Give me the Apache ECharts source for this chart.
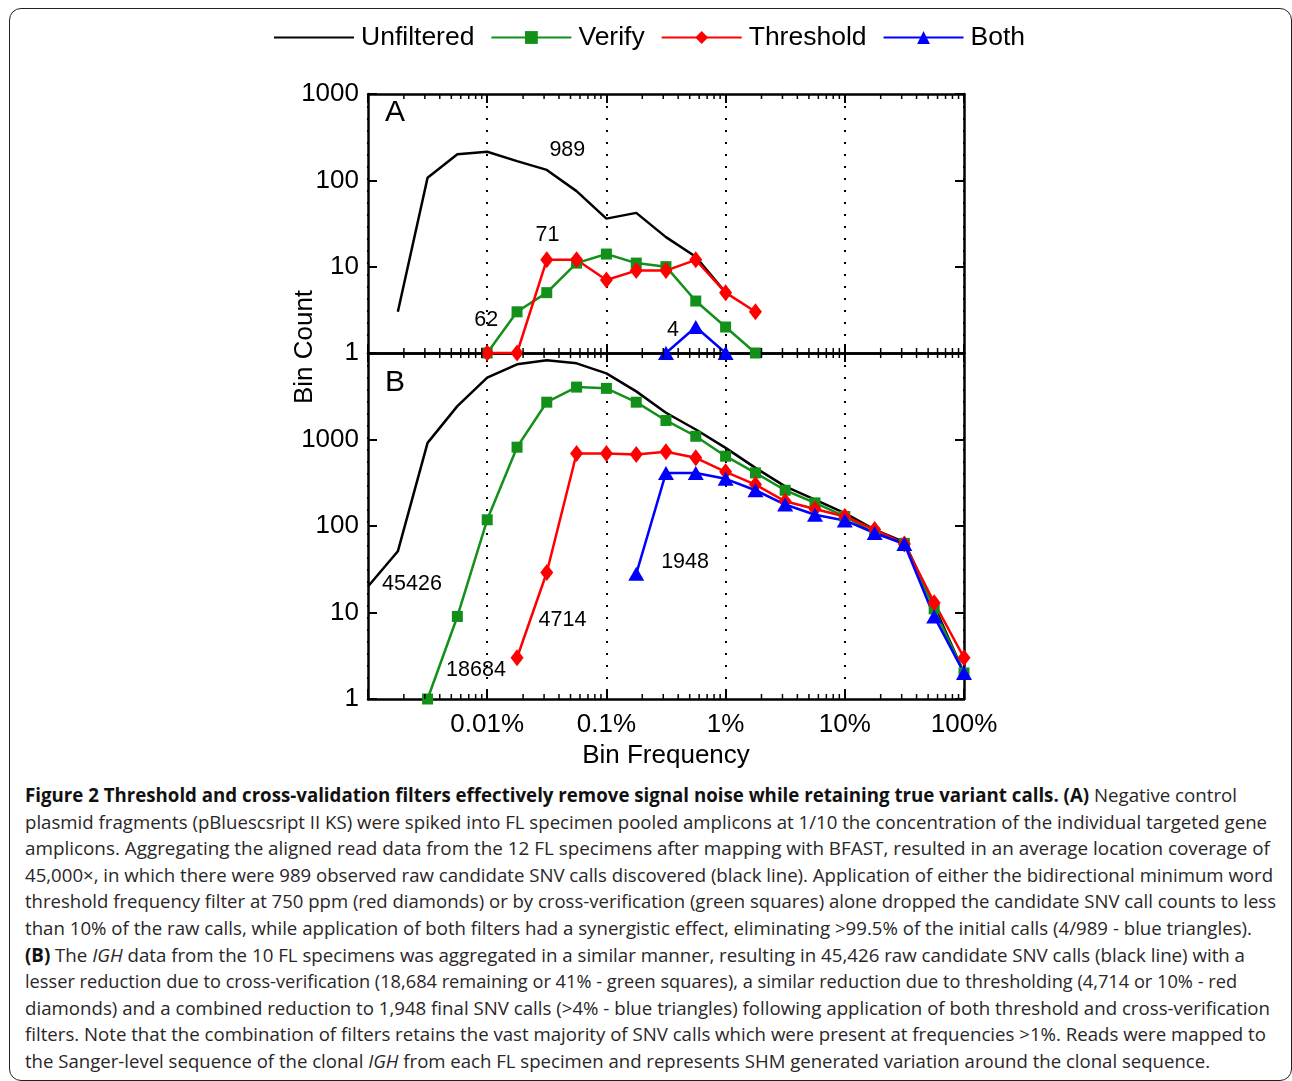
<!DOCTYPE html>
<html>
<head>
<meta charset="utf-8">
<script src="https://cdn.jsdelivr.net/npm/echarts@6/dist/echarts.min.js"></script>
<style>
  html, body { margin: 0; padding: 0; background: #fff; }
  body { width: 1292px; height: 1081px; position: relative; overflow: hidden; }
  #frame { position: absolute; left: 9px; top: 8px; width: 1283px; height: 1073px;
    border: 1.5px solid #222; border-radius: 12px; box-sizing: border-box; }
  #chart { position: absolute; left: 0; top: 0; width: 1292px; height: 775px; }
  #caption { position: absolute; left: 25px; top: 782px; font-family: 'Open Sans', sans-serif;
    font-size: 19px; line-height: 26.6px; color: #2a2627; }
  #caption div { white-space: nowrap; transform-origin: 0 50%; width: max-content; }
  #caption b { color: #111; }
</style>
</head>
<body>
<div id="frame"></div>
<div id="chart"></div>
<div id="caption">
  <div><b>Figure 2 Threshold and cross-validation filters effectively remove signal noise while retaining true variant calls. (A)</b> Negative control</div>
  <div>plasmid fragments (pBluescsript II KS) were spiked into FL specimen pooled amplicons at 1/10 the concentration of the individual targeted gene</div>
  <div>amplicons. Aggregating the aligned read data from the 12 FL specimens after mapping with BFAST, resulted in an average location coverage of</div>
  <div>45,000×, in which there were 989 observed raw candidate SNV calls discovered (black line). Application of either the bidirectional minimum word</div>
  <div>threshold frequency filter at 750 ppm (red diamonds) or by cross-verification (green squares) alone dropped the candidate SNV call counts to less</div>
  <div>than 10% of the raw calls, while application of both filters had a synergistic effect, eliminating &gt;99.5% of the initial calls (4/989 - blue triangles).</div>
  <div><b>(B)</b> The <i>IGH</i> data from the 10 FL specimens was aggregated in a similar manner, resulting in 45,426 raw candidate SNV calls (black line) with a</div>
  <div>lesser reduction due to cross-verification (18,684 remaining or 41% - green squares), a similar reduction due to thresholding (4,714 or 10% - red</div>
  <div>diamonds) and a combined reduction to 1,948 final SNV calls (&gt;4% - blue triangles) following application of both threshold and cross-verification</div>
  <div>filters. Note that the combination of filters retains the vast majority of SNV calls which were present at frequencies &gt;1%. Reads were mapped to</div>
  <div>the Sanger-level sequence of the clonal <i>IGH</i> from each FL specimen and represents SHM generated variation around the clonal sequence.</div>
</div>
<script>
// ---------------- DATA ----------------
// Bin centres (Bin Frequency, in %), quarter-decade bins
const BIN_FREQ = [0.001, 0.00178, 0.00316, 0.00562, 0.01, 0.0178, 0.0316, 0.0562, 0.1, 0.178, 0.316, 0.562,
                  1, 1.78, 3.16, 5.62, 10, 17.8, 31.6, 56.2, 100];
const SERIES_NAMES = ['Unfiltered', 'Verify', 'Threshold', 'Both'];

// Panel A (negative control plasmid)
const UNFILTERED_A = [null, 3, 107, 200, 214, 167, 132, 75, 36, 42, 22, 13, 5, null, null, null, null, null, null, null, null];
const VERIFY_A     = [null, null, null, null, 1, 3, 5, 11, 14, 11, 10, 4, 2, 1, null, null, null, null, null, null, null];
const THRESHOLD_A  = [null, null, null, null, 1, 1, 12, 12, 7, 9, 9, 12, 5, 3, null, null, null, null, null, null, null];
const BOTH_A       = [null, null, null, null, null, null, null, null, null, null, 1, 2, 1, null, null, null, null, null, null, null, null];

// Panel B (IGH)
const UNFILTERED_B = [20, 51, 915, 2430, 5190, 7400, 8220, 7590, 5820, 3600, 2040, 1306, 800, 470, 287, 202, 141, 91, 65, 12, 2];
const VERIFY_B     = [null, null, 1, 9, 118, 815, 2700, 4035, 3900, 2700, 1660, 1090, 641, 411, 259, 185, 129, 83, 63, 11, 2];
const THRESHOLD_B  = [null, null, null, null, null, 3, 29, 689, 689, 670, 720, 614, 423, 301, 193, 157, 129, 91, 62, 13, 3];
const BOTH_B       = [null, null, null, null, null, null, null, null, null, 28, 411, 411, 351, 259, 177, 135, 116, 83, 62, 9, 2];

// Totals printed next to each curve
const TOTALS_A = ['989', '62', '71', '4'];
const TOTALS_B = ['45426', '18684', '4714', '1948'];

// Tick labels
const X_TICK_LABELS = ['', '0.01%', '0.1%', '1%', '10%', '100%'];   // 0.001% .. 100%
const Y_TICK_LABELS_A = ['1', '10', '100', '1000'];
const Y_TICK_LABELS_B = ['1', '10', '100', '1000', ''];
const PANEL_LABELS = ['A', 'B'];

// ---------------- CHART ----------------
const FONT = 'Liberation Sans, Arial, Helvetica, sans-serif';
const COLORS = { Unfiltered: '#000000', Verify: '#12901a', Threshold: '#ff0000', Both: '#0000ff' };
const SYMBOLS = { Unfiltered: 'none', Verify: 'rect', Threshold: 'diamond', Both: 'triangle' };
const SYMBOL_SIZES = { Unfiltered: 0, Verify: 11, Threshold: [13, 17], Both: [16, 14] };

function pairs(arr) {
  const out = [];
  arr.forEach((v, i) => { if (v !== null) out.push([BIN_FREQ[i], v]); });
  return out;
}
const lg = v => Math.round(Math.log(v) / Math.LN10);

function xAxisCfg(grid, pos, showLabel, showSplit) {
  return {
    type: 'log', logBase: 10, gridIndex: grid, position: pos, min: 0.001, max: 100, splitNumber: 5,
    axisLine: { show: true, onZero: false, lineStyle: { color: '#000', width: 2.5 } },
    axisTick: { show: true, inside: true, length: 9, lineStyle: { color: '#000', width: 2 } },
    axisLabel: { show: showLabel, color: '#000', fontSize: 26, fontFamily: FONT, margin: 13,
      showMinLabel: true, showMaxLabel: true,
      formatter: v => X_TICK_LABELS[lg(v) + 3] },
    splitLine: { show: showSplit, lineStyle: { color: '#000', width: 2, type: [2, 10] } }
  };
}
function yAxisCfg(grid, pos, max, labels, showLabel) {
  return {
    type: 'log', logBase: 10, gridIndex: grid, position: pos, min: 1, max: max,
    splitNumber: labels.length - 1,
    axisLine: { show: true, onZero: false, lineStyle: { color: '#000', width: 2.5 } },
    axisTick: { show: true, inside: true, length: 9, lineStyle: { color: '#000', width: 2 } },
    axisLabel: { show: showLabel, color: '#000', fontSize: 26, fontFamily: FONT, margin: 9,
      showMinLabel: true, showMaxLabel: true,
      formatter: v => labels[lg(v)] },
    splitLine: { show: false }
  };
}

function lineSeries(name, data, xi, yi, mark) {
  const s = {
    name: name, type: 'line', xAxisIndex: xi, yAxisIndex: yi, data: pairs(data),
    symbol: SYMBOLS[name], symbolSize: SYMBOL_SIZES[name], showSymbol: name !== 'Unfiltered',
    lineStyle: { color: COLORS[name], width: 2.5 },
    itemStyle: { color: COLORS[name] },
    emphasis: { disabled: true }, animation: false, clip: false, z: 3
  };
  if (mark) {
    s.markPoint = {
      symbol: 'circle', symbolSize: 0, silent: true,
      label: { show: true, position: 'inside', color: '#000', fontSize: 21.5, fontFamily: FONT,
        formatter: p => p.value },
      data: [{ coord: mark.coord, value: mark.text }]
    };
  }
  return s;
}

// minor log ticks (2..9 within each decade) on top and bottom frame
const MINOR_TICKS = [];
for (let e = -3; e < 2; e++) for (let m = 2; m <= 9; m++) MINOR_TICKS.push([m * Math.pow(10, e), 1]);
function minorTickSeries(xi, yi) {
  return {
    type: 'custom', xAxisIndex: xi, yAxisIndex: yi, data: MINOR_TICKS, silent: true, clip: false,
    encode: { x: 0, y: 1 }, z: 4, animation: false,
    renderItem: (params, api) => {
      const cs = params.coordSys;
      const x = api.coord([api.value(0), 1])[0];
      const st = { stroke: '#000', lineWidth: 1.5 };
      return { type: 'group', children: [
        { type: 'line', shape: { x1: x, y1: cs.y, x2: x, y2: cs.y + 5 }, style: st },
        { type: 'line', shape: { x1: x, y1: cs.y + cs.height, x2: x, y2: cs.y + cs.height - 5 }, style: st }
      ] };
    }
  };
}

const chart = echarts.init(document.getElementById('chart'), null, { renderer: 'canvas' });
chart.setOption({
  animation: false,
  backgroundColor: 'transparent',
  textStyle: { fontFamily: FONT },
  legend: {
    data: SERIES_NAMES.map(n => n === 'Unfiltered'
      ? { name: n, itemStyle: { color: 'rgba(0,0,0,0)', borderWidth: 0 } }
      : { name: n }),
    left: 268, top: 19, itemWidth: 80, itemHeight: 16, itemGap: 16,
    textStyle: { fontSize: 26.5, color: '#000', fontFamily: FONT, padding: [0, 0, 0, 2] },
    selectedMode: false
  },
  grid: [
    { left: 368, top: 94, width: 596, height: 259 },
    { left: 368, top: 353, width: 596, height: 346 }
  ],
  xAxis: [
    xAxisCfg(0, 'bottom', false, true),
    xAxisCfg(0, 'top', false, false),
    Object.assign(xAxisCfg(1, 'bottom', true, true), {
      name: 'Bin Frequency', nameLocation: 'middle', nameGap: 44,
      nameTextStyle: { fontSize: 26, color: '#000', fontFamily: FONT }
    }),
    xAxisCfg(1, 'top', false, false)
  ],
  yAxis: [
    yAxisCfg(0, 'left', 1000, Y_TICK_LABELS_A, true),
    yAxisCfg(0, 'right', 1000, Y_TICK_LABELS_A, false),
    yAxisCfg(1, 'left', 10000, Y_TICK_LABELS_B, true),
    yAxisCfg(1, 'right', 10000, Y_TICK_LABELS_B, false)
  ],
  graphic: [
    { type: 'text', x: 305, y: 347, rotation: Math.PI / 2,
      style: { text: 'Bin Count', fontSize: 26, fontFamily: FONT, fill: '#000', align: 'center', verticalAlign: 'middle' } },
    { type: 'text', x: 385, y: 113,
      style: { text: PANEL_LABELS[0], fontSize: 30, fontFamily: FONT, fill: '#000', align: 'left', verticalAlign: 'middle' } },
    { type: 'text', x: 385, y: 383,
      style: { text: PANEL_LABELS[1], fontSize: 30, fontFamily: FONT, fill: '#000', align: 'left', verticalAlign: 'middle' } }
  ],
  series: [
    lineSeries('Unfiltered', UNFILTERED_A, 0, 0, { coord: [0.047, 224], text: TOTALS_A[0] }),
    lineSeries('Verify', VERIFY_A, 0, 0, { coord: [0.0098, 2.41], text: TOTALS_A[1] }),
    lineSeries('Threshold', THRESHOLD_A, 0, 0, { coord: [0.032, 23.3], text: TOTALS_A[2] }),
    lineSeries('Both', BOTH_A, 0, 0, { coord: [0.362, 1.85], text: TOTALS_A[3] }),
    lineSeries('Unfiltered', UNFILTERED_B, 2, 2, { coord: [0.00234, 21.5], text: TOTALS_B[0] }),
    lineSeries('Verify', VERIFY_B, 2, 2, { coord: [0.00805, 2.17], text: TOTALS_B[1] }),
    lineSeries('Threshold', THRESHOLD_B, 2, 2, { coord: [0.0428, 8.2], text: TOTALS_B[2] }),
    lineSeries('Both', BOTH_B, 2, 2, { coord: [0.457, 38.6], text: TOTALS_B[3] }),
    minorTickSeries(0, 0),
    minorTickSeries(2, 2)
  ]
});

// fit caption lines to the widths of the original figure's lines
const LINE_RIGHT = [1237, 1267, 1270, 1273, 1276, 1252, 1245, 1237, 1270, 1266, 1210];
document.querySelectorAll('#caption div').forEach((d, i) => {
  const w = d.getBoundingClientRect().width;
  const target = LINE_RIGHT[i] - 25;
  d.style.transform = 'scaleX(' + (target / w).toFixed(4) + ')';
});
</script>
</body>
</html>
